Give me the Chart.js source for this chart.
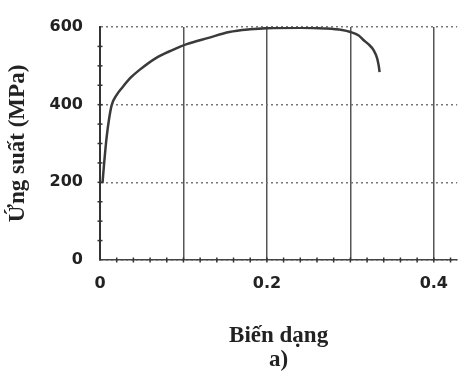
<!DOCTYPE html>
<html>
<head>
<meta charset="utf-8">
<script src="https://cdn.jsdelivr.net/npm/chart.js@4"></script>
<style>
  body { margin: 0; background: #fff; }
  #wrap { width: 462px; height: 372px; }
</style>
</head>
<body>
<div id="wrap"><canvas id="stressChart" width="462" height="372"></canvas></div>
<script>
  // strain / stress
  const strain = [0.003, 0.005, 0.008, 0.011, 0.014, 0.02, 0.027, 0.037, 0.047, 0.067, 0.086, 0.104, 0.13, 0.155, 0.18, 0.2, 0.24, 0.27, 0.29, 0.3, 0.31, 0.316, 0.322, 0.328, 0.332, 0.334, 0.335];
  const stress = [198, 250, 317, 365, 399, 425, 445, 470, 489, 520, 540, 556, 572, 587, 594, 597, 598, 596, 592, 587, 578, 566, 555, 540, 520, 500, 484];
  const xTicks = [0, 0.2, 0.4];
  const yTicks = [0, 200, 400, 600];

  const points = strain.map((s, i) => ({ x: s, y: stress[i] }));

  // small minor tick marks along both axes
  const minorTicks = {
    id: 'minorTicks',
    afterDatasetsDraw(chart) {
      const { ctx, scales: { x, y } } = chart;
      const y0 = y.getPixelForValue(0);
      const x0 = x.getPixelForValue(0);
      ctx.save();
      ctx.strokeStyle = '#333';
      ctx.lineWidth = 1.5;
      for (let v = 0.02; v < x.max; v += 0.02) {
        const px = x.getPixelForValue(v);
        ctx.beginPath();
        ctx.moveTo(px, y0 - 2.5);
        ctx.lineTo(px, y0 + 2.5);
        ctx.stroke();
      }
      for (let v = 50; v < y.max; v += 50) {
        const py = y.getPixelForValue(v);
        ctx.beginPath();
        ctx.moveTo(x0 - 2.5, py);
        ctx.lineTo(x0 + 2.5, py);
        ctx.stroke();
      }
      ctx.restore();
    }
  };

  const ctx = document.getElementById('stressChart').getContext('2d');
  const stressChart = new Chart(ctx, {
    type: 'line',
    data: {
      datasets: [{
        label: 'Ứng suất',
        data: points,
        borderColor: '#3a3a3a',
        borderWidth: 2.5,
        pointRadius: 0,
        fill: false,
        cubicInterpolationMode: 'monotone'
      }]
    },
    plugins: [minorTicks],
    options: {
      responsive: false,
      animation: false,
      layout: { padding: { top: 27, right: 0, left: 0, bottom: 0 } },
      plugins: { legend: { display: false }, tooltip: { enabled: false } },
      scales: {
        x: {
          type: 'linear',
          min: 0,
          max: 0.428,
          afterFit: (s) => { s.height = 112; },
          ticks: {
            stepSize: 0.1,
            includeBounds: false,
            padding: 14,
            color: '#222',
            font: { family: 'DejaVu Sans', weight: 'bold', size: 16 },
            callback: (v) => {
              const hit = xTicks.find(t => Math.abs(t - v) < 1e-6);
              return hit === undefined ? '' : String(hit);
            }
          },
          grid: { color: '#555', lineWidth: 1.5, drawTicks: false },
          border: { color: '#444', width: 1.5 },
          title: {
            display: true,
            text: ['Biến dạng', 'a)'],
            color: '#222',
            padding: { top: 0, bottom: 0 },
            font: { family: 'Liberation Serif', weight: 'bold', size: 23, lineHeight: 1.05 }
          }
        },
        y: {
          min: 0,
          max: 600,
          afterFit: (s) => { s.width = 100; },
          ticks: {
            stepSize: 200,
            padding: 17,
            color: '#222',
            font: { family: 'DejaVu Sans', weight: 'bold', size: 16 },
            callback: (v) => yTicks.includes(v) ? String(v) : ''
          },
          grid: { color: '#777', lineWidth: 1.5, drawTicks: false },
          border: { color: '#333', width: 2, dash: [2, 3] },
          title: {
            display: true,
            text: 'Ứng suất (MPa)',
            color: '#222',
            padding: { top: 6, bottom: 0 },
            font: { family: 'Liberation Serif', weight: 'bold', size: 23, lineHeight: 1.05 }
          }
        }
      }
    }
  });
</script>
</body>
</html>
